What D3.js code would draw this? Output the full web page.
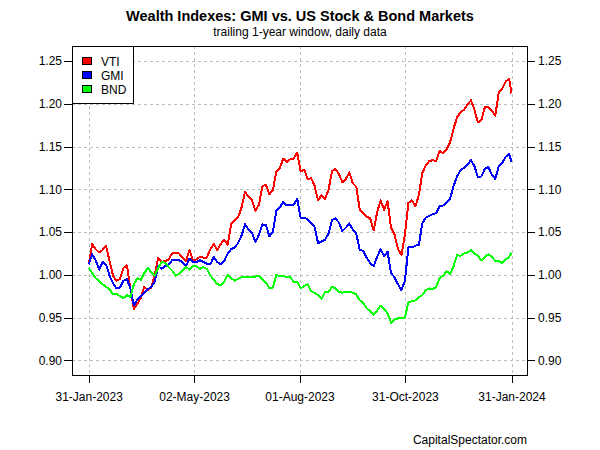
<!DOCTYPE html>
<html>
<head>
<meta charset="utf-8">
<script src="https://cdn.jsdelivr.net/npm/d3@7"></script>
<style>
  body { margin: 0; background: #fff; }
  svg text { font-family: "Liberation Sans", Arial, sans-serif; fill: #000; }
</style>
</head>
<body>
<svg id="chart" width="600" height="450"></svg>
<script>
// Sample dates (every 3rd calendar day of the trailing 1-year window)
const dates = [
    "2023-01-31", "2023-02-03", "2023-02-06", "2023-02-09", "2023-02-12", "2023-02-15", "2023-02-18", "2023-02-21", "2023-02-24", "2023-02-27",
    "2023-03-02", "2023-03-05", "2023-03-08", "2023-03-11", "2023-03-14", "2023-03-17", "2023-03-20", "2023-03-23", "2023-03-26", "2023-03-29",
    "2023-04-01", "2023-04-04", "2023-04-07", "2023-04-10", "2023-04-13", "2023-04-16", "2023-04-19", "2023-04-22", "2023-04-25", "2023-04-28",
    "2023-05-01", "2023-05-04", "2023-05-07", "2023-05-10", "2023-05-13", "2023-05-16", "2023-05-19", "2023-05-22", "2023-05-25", "2023-05-28",
    "2023-05-31", "2023-06-03", "2023-06-06", "2023-06-09", "2023-06-12", "2023-06-15", "2023-06-18", "2023-06-21", "2023-06-24", "2023-06-27",
    "2023-06-30", "2023-07-03", "2023-07-06", "2023-07-09", "2023-07-12", "2023-07-15", "2023-07-18", "2023-07-21", "2023-07-24", "2023-07-27",
    "2023-07-30", "2023-08-02", "2023-08-05", "2023-08-08", "2023-08-11", "2023-08-14", "2023-08-17", "2023-08-20", "2023-08-23", "2023-08-26",
    "2023-08-29", "2023-09-01", "2023-09-04", "2023-09-07", "2023-09-10", "2023-09-13", "2023-09-16", "2023-09-19", "2023-09-22", "2023-09-25",
    "2023-09-28", "2023-10-01", "2023-10-04", "2023-10-07", "2023-10-10", "2023-10-13", "2023-10-16", "2023-10-19", "2023-10-22", "2023-10-25",
    "2023-10-28", "2023-10-31", "2023-11-03", "2023-11-06", "2023-11-09", "2023-11-12", "2023-11-15", "2023-11-18", "2023-11-21", "2023-11-24",
    "2023-11-27", "2023-11-30", "2023-12-03", "2023-12-06", "2023-12-09", "2023-12-12", "2023-12-15", "2023-12-18", "2023-12-21", "2023-12-24",
    "2023-12-27", "2023-12-30", "2024-01-02", "2024-01-05", "2024-01-08", "2024-01-11", "2024-01-14", "2024-01-17", "2024-01-20", "2024-01-23",
    "2024-01-26", "2024-01-29", "2024-01-31"
];

const vti = [
    1.012, 1.036, 1.030, 1.026, 1.029, 1.034, 1.016, 0.999, 0.993, 0.995,
    1.008, 1.011, 0.984, 0.960, 0.966, 0.973, 0.986, 0.982, 0.985, 1.000,
    1.020, 1.015, 1.016, 1.018, 1.025, 1.026, 1.025, 1.020, 1.016, 1.029,
    1.017, 1.018, 1.021, 1.020, 1.020, 1.030, 1.036, 1.029, 1.036, 1.041,
    1.035, 1.060, 1.064, 1.067, 1.079, 1.097, 1.091, 1.087, 1.075, 1.082,
    1.104, 1.105, 1.094, 1.099, 1.121, 1.125, 1.136, 1.132, 1.135, 1.136,
    1.143, 1.121, 1.123, 1.112, 1.113, 1.104, 1.087, 1.093, 1.089, 1.099,
    1.121, 1.124, 1.118, 1.108, 1.112, 1.120, 1.107, 1.103, 1.076, 1.072,
    1.068, 1.066, 1.052, 1.073, 1.087, 1.076, 1.086, 1.055, 1.047, 1.030,
    1.023, 1.047, 1.084, 1.087, 1.080, 1.093, 1.119, 1.128, 1.133, 1.134,
    1.133, 1.145, 1.142, 1.147, 1.155, 1.171, 1.184, 1.190, 1.193, 1.199,
    1.204, 1.193, 1.178, 1.181, 1.196, 1.196, 1.192, 1.186, 1.213, 1.218,
    1.226, 1.229, 1.212
];

const gmi = [
    1.012, 1.024, 1.017, 1.006, 1.015, 1.012, 0.999, 0.990, 0.984, 0.985,
    0.993, 0.995, 0.984, 0.964, 0.971, 0.975, 0.979, 0.983, 0.986, 0.992,
    1.010, 1.007, 1.010, 1.012, 1.017, 1.017, 1.017, 1.015, 1.010, 1.019,
    1.015, 1.015, 1.017, 1.015, 1.013, 1.012, 1.021, 1.015, 1.012, 1.016,
    1.025, 1.030, 1.032, 1.037, 1.046, 1.059, 1.053, 1.049, 1.038, 1.047,
    1.059, 1.058, 1.045, 1.050, 1.075, 1.079, 1.085, 1.081, 1.082, 1.082,
    1.089, 1.066, 1.067, 1.065, 1.060, 1.056, 1.037, 1.039, 1.041, 1.048,
    1.064, 1.066, 1.061, 1.051, 1.055, 1.060, 1.053, 1.048, 1.029, 1.028,
    1.020, 1.014, 1.010, 1.021, 1.030, 1.022, 1.027, 1.002, 0.997, 0.989,
    0.982, 0.993, 1.032, 1.032, 1.034, 1.035, 1.060, 1.067, 1.069, 1.071,
    1.072, 1.080, 1.081, 1.085, 1.089, 1.104, 1.115, 1.122, 1.125, 1.129,
    1.134, 1.127, 1.114, 1.115, 1.124, 1.126, 1.117, 1.112, 1.127, 1.131,
    1.138, 1.141, 1.132
];

const bnd = [
    1.008, 1.002, 0.996, 0.993, 0.989, 0.986, 0.983, 0.977, 0.978, 0.975,
    0.973, 0.976, 0.974, 0.989, 0.996, 0.994, 1.002, 1.008, 1.003, 0.999,
    1.008, 1.015, 1.014, 1.009, 1.005, 0.999, 1.001, 1.005, 1.009, 1.006,
    1.010, 1.010, 1.007, 1.009, 1.007, 0.999, 0.994, 0.989, 0.988, 0.992,
    1.000, 0.996, 0.993, 0.995, 0.997, 0.998, 0.997, 0.997, 0.998, 0.999,
    0.994, 0.991, 0.984, 0.985, 1.000, 0.998, 0.999, 0.997, 0.997, 0.992,
    0.992, 0.984, 0.987, 0.989, 0.981, 0.979, 0.976, 0.972, 0.980, 0.980,
    0.986, 0.984, 0.980, 0.979, 0.980, 0.980, 0.979, 0.977, 0.970, 0.967,
    0.961, 0.957, 0.953, 0.958, 0.964, 0.960, 0.955, 0.944, 0.948, 0.949,
    0.950, 0.950, 0.968, 0.969, 0.970, 0.974, 0.976, 0.982, 0.984, 0.983,
    0.986, 0.996, 0.999, 1.004, 1.001, 1.010, 1.023, 1.022, 1.025, 1.026,
    1.029, 1.025, 1.022, 1.017, 1.021, 1.024, 1.021, 1.016, 1.016, 1.014,
    1.018, 1.021, 1.026
];

const seriesNames = ["VTI", "GMI", "BND"];
const seriesColors = ["#ff0000", "#0000ff", "#00ff00"];
const xTickDates = ["2023-01-31", "2023-05-02", "2023-08-01", "2023-10-31", "2024-01-31"];
const yTicks = [0.90, 0.95, 1.00, 1.05, 1.10, 1.15, 1.20, 1.25];

const parseDate = d3.utcParse("%Y-%m-%d");
const formatTick = d3.utcFormat("%d-%b-%Y");

const svg = d3.select("#chart");
const box = { left: 72, right: 527, top: 46, bottom: 375 };

svg.append("rect")
    .attr("width", 600)
    .attr("height", 450)
    .attr("fill", "#fff");

const x = d3.scaleUtc()
    .domain([parseDate("2023-01-31"), parseDate("2024-01-31")])
    .range([88.7, 511.5]);

const y = d3.scaleLinear()
    .domain([0.90, 1.25])
    .range([360.3, 61]);

// Grid (dotted light gray)
const grid = svg.append("g")
    .attr("stroke", "#bebebe")
    .attr("stroke-width", 1)
    .attr("stroke-dasharray", "3,3")
    .attr("shape-rendering", "crispEdges");

grid.selectAll(".vgrid")
    .data(xTickDates)
    .enter().append("line")
    .attr("x1", d => Math.round(x(parseDate(d))) + 0.5)
    .attr("x2", d => Math.round(x(parseDate(d))) + 0.5)
    .attr("y1", box.top)
    .attr("y2", box.bottom);

grid.selectAll(".hgrid")
    .data(yTicks)
    .enter().append("line")
    .attr("x1", box.left)
    .attr("x2", box.right)
    .attr("y1", d => Math.round(y(d)) + 0.5)
    .attr("y2", d => Math.round(y(d)) + 0.5);

// Lines
const allSeries = [vti, gmi, bnd];
const line = d3.line()
    .x(d => x(d.date))
    .y(d => y(d.value));

allSeries.forEach((values, i) => {
    const data = values.map((v, j) => ({ date: parseDate(dates[j]), value: v }));
    svg.append("path")
        .datum(data)
        .attr("fill", "none")
        .attr("stroke", seriesColors[i])
        .attr("stroke-width", 2)
        .attr("stroke-linejoin", "round")
        .attr("shape-rendering", "crispEdges")
        .attr("d", line);
});

// Axes
const fmt = d3.format(".2f");

const leftAxis = svg.append("g")
    .attr("transform", `translate(${box.left},0)`)
    .call(d3.axisLeft(y).tickValues(yTicks).tickFormat(fmt).tickSize(8).tickPadding(2).tickSizeOuter(0));

const rightAxis = svg.append("g")
    .attr("transform", `translate(${box.right},0)`)
    .call(d3.axisRight(y).tickValues(yTicks).tickFormat(fmt).tickSize(8).tickPadding(3).tickSizeOuter(0));

const bottomAxis = svg.append("g")
    .attr("transform", `translate(0,${box.bottom})`)
    .call(d3.axisBottom(x).tickValues(xTickDates.map(parseDate)).tickFormat(formatTick).tickSize(8).tickSizeOuter(0));

bottomAxis.selectAll("text")
    .attr("y", 26)
    .attr("dy", 0);

[leftAxis, rightAxis, bottomAxis].forEach(g => {
    g.select(".domain").remove();
    g.selectAll("line").attr("stroke", "#000").attr("shape-rendering", "crispEdges");
    g.selectAll("text")
        .attr("font-size", "12px")
        .attr("font-family", "Liberation Sans, Arial, sans-serif")
        .attr("fill", "#000");
});

// Plot border
svg.append("rect")
    .attr("x", box.left + 0.5)
    .attr("y", box.top + 0.5)
    .attr("width", box.right - box.left)
    .attr("height", box.bottom - box.top)
    .attr("fill", "none")
    .attr("stroke", "#000")
    .attr("stroke-width", 1)
    .attr("shape-rendering", "crispEdges");

// Legend
const legend = svg.append("g");
legend.append("rect")
    .attr("x", box.left + 0.5)
    .attr("y", box.top + 0.5)
    .attr("width", 61)
    .attr("height", 57)
    .attr("fill", "#fff")
    .attr("stroke", "#000")
    .attr("shape-rendering", "crispEdges");

seriesNames.forEach((name, i) => {
    const cy = 61 + i * 14;
    legend.append("rect")
        .attr("x", 82.5)
        .attr("y", cy - 3.5)
        .attr("width", 9)
        .attr("height", 7)
        .attr("fill", seriesColors[i])
        .attr("stroke", "#000")
        .attr("shape-rendering", "crispEdges");
    legend.append("text")
        .attr("x", 101)
        .attr("y", cy + 4.5)
        .attr("font-size", "12px")
        .text(name);
});

// Titles
svg.append("text")
    .attr("x", 300)
    .attr("y", 21)
    .attr("text-anchor", "middle")
    .attr("font-size", "14.5px")
    .attr("font-weight", "bold")
    .text("Wealth Indexes: GMI vs. US Stock & Bond Markets");

svg.append("text")
    .attr("x", 300)
    .attr("y", 36)
    .attr("text-anchor", "middle")
    .attr("font-size", "12px")
    .text("trailing 1-year window, daily data");

svg.append("text")
    .attr("x", 527)
    .attr("y", 444)
    .attr("text-anchor", "end")
    .attr("font-size", "12px")
    .text("CapitalSpectator.com");
</script>
</body>
</html>
